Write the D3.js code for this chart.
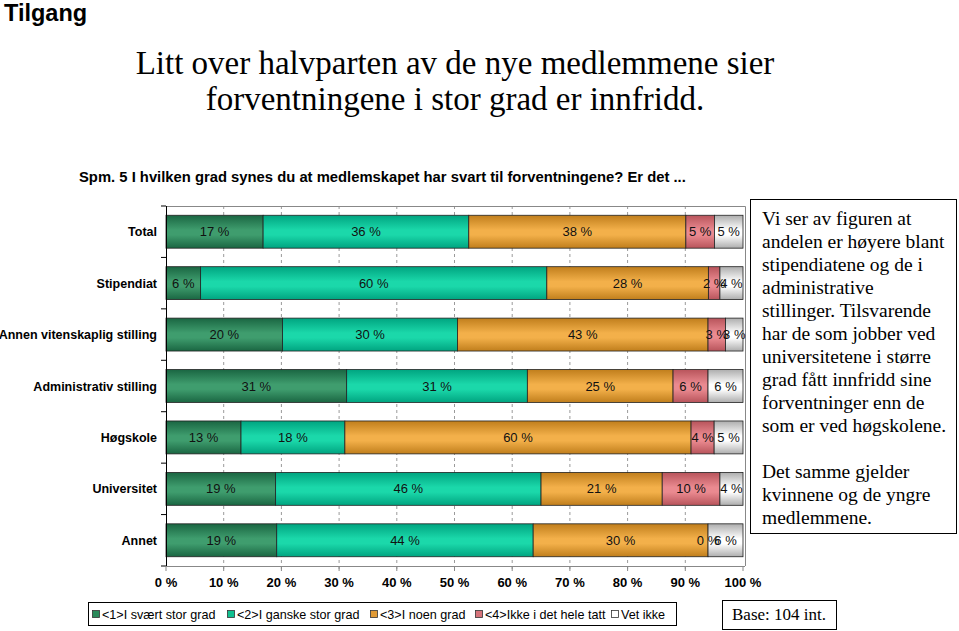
<!DOCTYPE html>
<html><head><meta charset="utf-8">
<script src="https://cdn.jsdelivr.net/npm/d3@7"></script>
<style>body{margin:0;background:#fff}svg{display:block}</style>
</head><body>
<svg id="c" width="959" height="631"></svg>
<script>
const categories = ["Total","Stipendiat","Annen vitenskaplig stilling","Administrativ stilling","Høgskole","Universitet","Annet"];
const seriesNames = ["<1>I svært stor grad","<2>I ganske stor grad","<3>I noen grad","<4>Ikke i det hele tatt","Vet ikke"];
const s1 = [17, 6, 20, 31, 13, 19, 19];
const s2 = [36, 60, 30, 31, 18, 46, 44];
const s3 = [38, 28, 43, 25, 60, 21, 30];
const s4 = [5, 2, 3, 6, 4, 10, 0];
const s5 = [5, 4, 3, 6, 5, 4, 6];
const xTicks = [0,0.1,0.2,0.3,0.4,0.5,0.6,0.7,0.8,0.9,1];
const textLines = ["Vi ser av figuren at","andelen er høyere blant","stipendiatene og de i","administrative","stillinger. Tilsvarende","har de som jobber ved","universitetene i større","grad fått innfridd sine","forventninger enn de","som er ved høgskolene.","","Det samme gjelder","kvinnene og de yngre","medlemmene."];

const palette = [
  {edge:"#1a6642", mid:"#3f9d6e"},
  {edge:"#00a480", mid:"#1bd8aa"},
  {edge:"#c07e1c", mid:"#f3b04a"},
  {edge:"#b8545b", mid:"#ea8a90"},
  {edge:"#adadad", mid:"#ffffff"}
];
const legendFill = ["#2a8a5a","#10c08f","#e09a35","#d6737a","#ffffff"];
const legendX = [92, 227, 370, 475, 611];

const svg = d3.select("#c");
const defs = svg.append("defs");
palette.forEach((p,i)=>{
  const g = defs.append("linearGradient").attr("id","g"+i).attr("x1",0).attr("y1",0).attr("x2",0).attr("y2",1);
  g.append("stop").attr("offset","0%").attr("stop-color",p.edge);
  g.append("stop").attr("offset","45%").attr("stop-color",p.mid);
  g.append("stop").attr("offset","60%").attr("stop-color",p.mid);
  g.append("stop").attr("offset","100%").attr("stop-color",p.edge);
});

const F = "'Liberation Sans', Arial, sans-serif";
const FS = "'Liberation Serif', 'Times New Roman', serif";

// Headings
svg.append("text").attr("x",4).attr("y",21).attr("font-family",F).attr("font-weight","bold").attr("font-size",23.5).text("Tilgang");
svg.append("text").attr("x",455).attr("y",74).attr("text-anchor","middle").attr("font-family",FS).attr("font-size",33).text("Litt over halvparten av de nye medlemmene sier");
svg.append("text").attr("x",455).attr("y",110).attr("text-anchor","middle").attr("font-family",FS).attr("font-size",33).text("forventningene i stor grad er innfridd.");
svg.append("text").attr("x",79).attr("y",182).attr("font-family",F).attr("font-weight","bold").attr("font-size",14.8).text("Spm. 5 I hvilken grad synes du at medlemskapet har svart til forventningene? Er det ...");

// Chart
const x0 = 166, x1 = 743, y0 = 206, y1 = 566;
const x = d3.scaleLinear().domain([0,1]).range([x0,x1]);
const y = d3.scaleBand().domain(categories).range([y0,y1]).paddingInner(0.36).paddingOuter(0.18);

const rows = categories.map((c,i)=>({cat:c, a:s1[i], b:s2[i], c3:s3[i], d:s4[i], e:s5[i]}));
const keys = ["a","b","c3","d","e"];
const stack = d3.stack().keys(keys).offset(d3.stackOffsetExpand);
const stacked = stack(rows);

// gridlines
svg.append("g").selectAll("line").data(xTicks.slice(1,-1)).join("line")
  .attr("x1",d=>x(d)).attr("x2",d=>x(d)).attr("y1",y0).attr("y2",y1+4)
  .attr("stroke","#9a9a9a").attr("stroke-width",1).attr("stroke-dasharray","3,3");

// plot frame (top, right)
svg.append("path").attr("d",`M${x0},${y0+0.5}H${x1+2.5}V${y1}`).attr("fill","none").attr("stroke","#888").attr("stroke-width",1);

// bars
const gBars = svg.append("g");
stacked.forEach((layer,i)=>{
  gBars.selectAll(null).data(layer).join("rect")
    .attr("x",d=>x(d[0])).attr("width",d=>Math.max(0,x(d[1])-x(d[0])))
    .attr("y",(d,j)=>y(categories[j])).attr("height",y.bandwidth())
    .attr("fill",`url(#g${i})`).attr("stroke","#222").attr("stroke-width",0.8);
});
// labels
const gLab = svg.append("g").attr("font-family",F).attr("font-size",13).attr("text-anchor","middle");
stacked.forEach((layer,i)=>{
  gLab.selectAll(null).data(layer).join("text")
    .attr("x",d=>(x(d[0])+x(d[1]))/2)
    .attr("y",(d,j)=>y(categories[j])+y.bandwidth()/2+4.5)
    .attr("fill","#111")
    .text((d,j)=>rows[j][keys[i]]+" %");
});

// left axis
const step = (y1-y0)/categories.length;
svg.append("line").attr("x1",x0+0.5).attr("x2",x0+0.5).attr("y1",y0).attr("y2",y1).attr("stroke","#000");
svg.append("g").selectAll("line").data(d3.range(categories.length+1)).join("line")
  .attr("x1",x0-5).attr("x2",x0).attr("y1",d=>y0+d*step).attr("y2",d=>y0+d*step).attr("stroke","#000");
svg.append("g").attr("font-family",F).attr("font-weight","bold").attr("font-size",12.5).attr("text-anchor","end")
  .selectAll("text").data(categories).join("text")
  .attr("x",157).attr("y",d=>y(d)+y.bandwidth()/2+4.5).text(d=>d);

// bottom axis
svg.append("line").attr("x1",x0).attr("x2",x1+2).attr("y1",y1+0.5).attr("y2",y1+0.5).attr("stroke","#888");
svg.append("g").selectAll("line").data(xTicks).join("line")
  .attr("x1",d=>x(d)).attr("x2",d=>x(d)).attr("y1",y1).attr("y2",y1+5).attr("stroke","#888");
svg.append("g").attr("font-family",F).attr("font-weight","bold").attr("font-size",13).attr("text-anchor","middle")
  .selectAll("text").data(xTicks).join("text")
  .attr("x",d=>x(d)).attr("y",587).text(d=>Math.round(d*100)+" %");

// legend
svg.append("rect").attr("x",88.5).attr("y",602.5).attr("width",588).attr("height",23).attr("fill","#fff").attr("stroke","#000");
const lg = svg.append("g").attr("font-family",F).attr("font-size",12.6);
seriesNames.forEach((n,i)=>{
  lg.append("rect").attr("x",legendX[i]+0.5).attr("y",610.5).attr("width",7).attr("height",7).attr("fill",legendFill[i]).attr("stroke","#333").attr("stroke-width",0.8);
  lg.append("text").attr("x",legendX[i]+10).attr("y",618.5).text(n);
});

// base box
svg.append("rect").attr("x",722.5).attr("y",600.5).attr("width",114).attr("height",29).attr("fill","#fff").attr("stroke","#000");
svg.append("text").attr("x",779).attr("y",620).attr("text-anchor","middle").attr("font-family",FS).attr("font-size",17).text("Base: 104 int.");

// comment box
svg.append("rect").attr("x",750.5).attr("y",199.5).attr("width",206).attr("height",334).attr("fill","#fff").attr("stroke","#000");
svg.append("g").attr("font-family",FS).attr("font-size",19.5)
  .selectAll("text").data(textLines).join("text")
  .attr("x",762).attr("y",(d,i)=>225+i*23).text(d=>d);
</script>
</body></html>
